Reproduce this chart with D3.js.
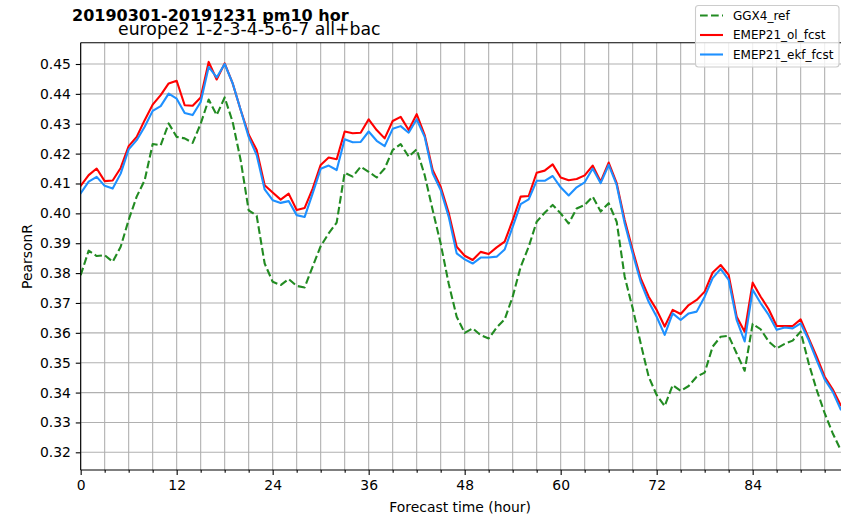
<!DOCTYPE html>
<html>
<head>
<meta charset="utf-8">
<script src="https://cdn.jsdelivr.net/npm/d3@7"></script>
<style>
  html, body { margin: 0; padding: 0; background: #fff; }
  svg { display: block; font-family: "DejaVu Sans", sans-serif; }
</style>
</head>
<body>
<svg id="chart" width="841" height="518"></svg>
<script>
// Forecast hours 0..95
const hours = d3.range(0, 96);

// PearsonR per forecast hour
const ggx4Ref = [
  0.3793, 0.3875, 0.3857, 0.3860, 0.3838, 0.3888, 0.3978, 0.4056, 0.4111, 0.4232,
  0.4228, 0.4301, 0.4256, 0.4251, 0.4236, 0.4300, 0.4381, 0.4329, 0.4388, 0.4306,
  0.4178, 0.4010, 0.3992, 0.3832, 0.3771, 0.3760, 0.3780, 0.3757, 0.3752, 0.3822,
  0.3890, 0.3933, 0.3969, 0.4136, 0.4123, 0.4156, 0.4139, 0.4120, 0.4150, 0.4212,
  0.4232, 0.4190, 0.4214, 0.4128, 0.4011, 0.3899, 0.3765, 0.3654, 0.3600, 0.3615,
  0.3592, 0.3581, 0.3618, 0.3645, 0.3721, 0.3821, 0.3888, 0.3972, 0.4002, 0.4028,
  0.4000, 0.3966, 0.4016, 0.4028, 0.4056, 0.4006, 0.4034, 0.3972, 0.3788, 0.3682,
  0.3565, 0.3453, 0.3392, 0.3355, 0.3425, 0.3406, 0.3422, 0.3453, 0.3467, 0.3554,
  0.3587, 0.3590, 0.3531, 0.3473, 0.3630, 0.3612, 0.3571, 0.3548, 0.3563, 0.3574,
  0.3604, 0.3498, 0.3409, 0.3331, 0.3264, 0.3208
];

const emepOlFcst = [
  0.4092, 0.4128, 0.4150, 0.4108, 0.4110, 0.4152, 0.4225, 0.4256, 0.4312, 0.4364,
  0.4396, 0.4435, 0.4444, 0.4362, 0.4360, 0.4388, 0.4507, 0.4448, 0.4502, 0.4435,
  0.4346, 0.4264, 0.4212, 0.4094, 0.4070, 0.4046, 0.4066, 0.4011, 0.4018, 0.4083,
  0.4162, 0.4187, 0.4181, 0.4274, 0.4268, 0.4270, 0.4315, 0.4279, 0.4251, 0.4309,
  0.4323, 0.4279, 0.4332, 0.4262, 0.4145, 0.4089, 0.4002, 0.3888, 0.3858, 0.3844,
  0.3871, 0.3864, 0.3886, 0.3905, 0.3977, 0.4056, 0.4058, 0.4136, 0.4143, 0.4164,
  0.4120, 0.4111, 0.4115, 0.4127, 0.4160, 0.4106, 0.4170, 0.4101, 0.3978, 0.3877,
  0.3783, 0.3721, 0.3677, 0.3621, 0.3677, 0.3663, 0.3693, 0.3710, 0.3738, 0.3802,
  0.3827, 0.3794, 0.3654, 0.3604, 0.3768, 0.3721, 0.3679, 0.3623, 0.3623, 0.3623,
  0.3645, 0.3582, 0.3520, 0.3453, 0.3411, 0.3358
];

const emepEkfFcst = [
  0.4067, 0.4106, 0.4122, 0.4092, 0.4083, 0.4133, 0.4214, 0.4245, 0.4290, 0.4343,
  0.4359, 0.4401, 0.4384, 0.4336, 0.4329, 0.4373, 0.4490, 0.4455, 0.4500, 0.4435,
  0.4346, 0.4256, 0.4195, 0.4080, 0.4044, 0.4035, 0.4041, 0.3994, 0.3988, 0.4067,
  0.4149, 0.4160, 0.4145, 0.4248, 0.4238, 0.4239, 0.4274, 0.4243, 0.4225, 0.4283,
  0.4292, 0.4270, 0.4315, 0.4256, 0.4134, 0.4078, 0.3989, 0.3866, 0.3846, 0.3832,
  0.3852, 0.3852, 0.3855, 0.3879, 0.3955, 0.4031, 0.4047, 0.4109, 0.4109, 0.4125,
  0.4087, 0.4060, 0.4087, 0.4104, 0.4150, 0.4101, 0.4162, 0.4095, 0.3967, 0.3866,
  0.3771, 0.3704, 0.3654, 0.3593, 0.3665, 0.3643, 0.3665, 0.3671, 0.3721, 0.3783,
  0.3814, 0.3777, 0.3643, 0.3571, 0.3744, 0.3699, 0.3660, 0.3610, 0.3618, 0.3615,
  0.3632, 0.3576, 0.3509, 0.3444, 0.3403, 0.3344
];

const xMajorTicks = [0, 12, 24, 36, 48, 60, 72, 84];
const xMinorTicks = d3.range(0, 96, 3);
const yTicks = [0.32, 0.33, 0.34, 0.35, 0.36, 0.37, 0.38, 0.39, 0.40, 0.41, 0.42, 0.43, 0.44, 0.45];

const seriesNames = ["GGX4_ref", "EMEP21_ol_fcst", "EMEP21_ekf_fcst"];
const seriesColors = ["#228b22", "#ff0000", "#1e90ff"];
const seriesDash = ["7.7,3.3", null, null];
const seriesValues = [ggx4Ref, emepOlFcst, emepEkfFcst];

const titleText = "20190301-20191231 pm10 hor";
const subtitleText = "europe2 1-2-3-4-5-6-7 all+bac";
const xLabelText = "Forecast time (hour)";
const yLabelText = "PearsonR";

const svg = d3.select("#chart");
const plotLeft = 80.67, plotRight = 840.67, plotTop = 42.7, plotBottom = 470;

const x = d3.scaleLinear().domain([0, 95]).range([plotLeft, plotRight]);
const y = d3.scaleLinear().domain([0.31408, 0.45713]).range([plotBottom, plotTop]);

svg.append("defs").append("clipPath").attr("id", "plotClip")
  .append("rect").attr("x", plotLeft).attr("y", plotTop)
  .attr("width", 900 - plotLeft).attr("height", plotBottom - plotTop);

// grid
const grid = svg.append("g").attr("stroke", "#b0b0b0").attr("stroke-width", 1.1);
grid.selectAll("line.vx").data(xMinorTicks).join("line")
  .attr("x1", d => x(d)).attr("x2", d => x(d))
  .attr("y1", plotTop).attr("y2", plotBottom);
grid.selectAll("line.hy").data(yTicks).join("line")
  .attr("x1", plotLeft).attr("x2", 900)
  .attr("y1", d => y(d)).attr("y2", d => y(d));

// series lines
const line = d3.line().x((d, i) => x(hours[i])).y(d => y(d));
const plot = svg.append("g").attr("clip-path", "url(#plotClip)");
seriesValues.forEach((vals, k) => {
  plot.append("path")
    .attr("d", line(vals))
    .attr("fill", "none")
    .attr("stroke", seriesColors[k])
    .attr("stroke-width", 2.1)
    .attr("stroke-linejoin", "round")
    .attr("stroke-linecap", k === 0 ? "butt" : "square")
    .attr("stroke-dasharray", seriesDash[k]);
});

// axes
const xAxis = d3.axisBottom(x).tickValues(xMajorTicks).tickSize(4.9).tickPadding(4.9).tickFormat(d3.format("d"));
const xAxisMinor = d3.axisBottom(x).tickValues(xMinorTicks.filter(t => t % 12 !== 0)).tickSize(2.8).tickFormat("");
const yAxis = d3.axisLeft(y).tickValues(yTicks).tickSize(4.9).tickPadding(4.9).tickFormat(d3.format(".2f"));

function styleAxis(g) {
  g.select(".domain").remove();
  g.selectAll("line").attr("stroke", "#000").attr("stroke-width", 1.1);
  g.selectAll("text").attr("fill", "#000").style("font-size", "13.9px").style("font-family", "DejaVu Sans");
}
svg.append("g").attr("transform", `translate(0,${plotBottom})`).call(xAxisMinor).call(styleAxis);
svg.append("g").attr("transform", `translate(0,${plotBottom})`).call(xAxis).call(styleAxis);
svg.append("g").attr("transform", `translate(${plotLeft},0)`).call(yAxis).call(styleAxis);

// spines
const spines = svg.append("g").attr("stroke", "#000").attr("stroke-width", 1.1);
spines.append("line").attr("x1", plotLeft).attr("x2", plotLeft).attr("y1", plotTop).attr("y2", plotBottom);
spines.append("line").attr("x1", plotLeft).attr("x2", 900).attr("y1", plotBottom).attr("y2", plotBottom);
spines.append("line").attr("x1", plotLeft).attr("x2", 900).attr("y1", plotTop).attr("y2", plotTop);

// labels
svg.append("text").attr("x", (plotLeft + plotRight) / 2 - 0.5).attr("y", 512)
  .attr("text-anchor", "middle").style("font-size", "13.9px").text(xLabelText);
svg.append("text").attr("transform", "translate(32,256.5) rotate(-90)")
  .attr("text-anchor", "middle").style("font-size", "13.9px").text(yLabelText);

// title (bold line sits just above the subtitle, as drawn by the plotting script)
svg.append("text").attr("x", 72).attr("y", 21)
  .style("font-size", "16px").style("font-weight", "bold").text(titleText);
svg.append("text").attr("x", 118).attr("y", 34.5)
  .style("font-size", "17.3px").text(subtitleText);

// legend
const lg = svg.append("g");
lg.append("rect").attr("x", 695.5).attr("y", 5.5).attr("width", 143.5).attr("height", 61.5)
  .attr("rx", 3).attr("fill", "#fff").attr("fill-opacity", 0.8)
  .attr("stroke", "#cccccc").attr("stroke-width", 1.1);
seriesNames.forEach((name, k) => {
  const cy = 15.5 + k * 19.5;
  lg.append("line").attr("x1", 700).attr("x2", 723).attr("y1", cy).attr("y2", cy)
    .attr("stroke", seriesColors[k]).attr("stroke-width", 2.1)
    .attr("stroke-dasharray", seriesDash[k]);
  lg.append("text").attr("x", 733).attr("y", cy + 4.3)
    .style("font-size", "12px").text(name);
});
</script>
</body>
</html>
